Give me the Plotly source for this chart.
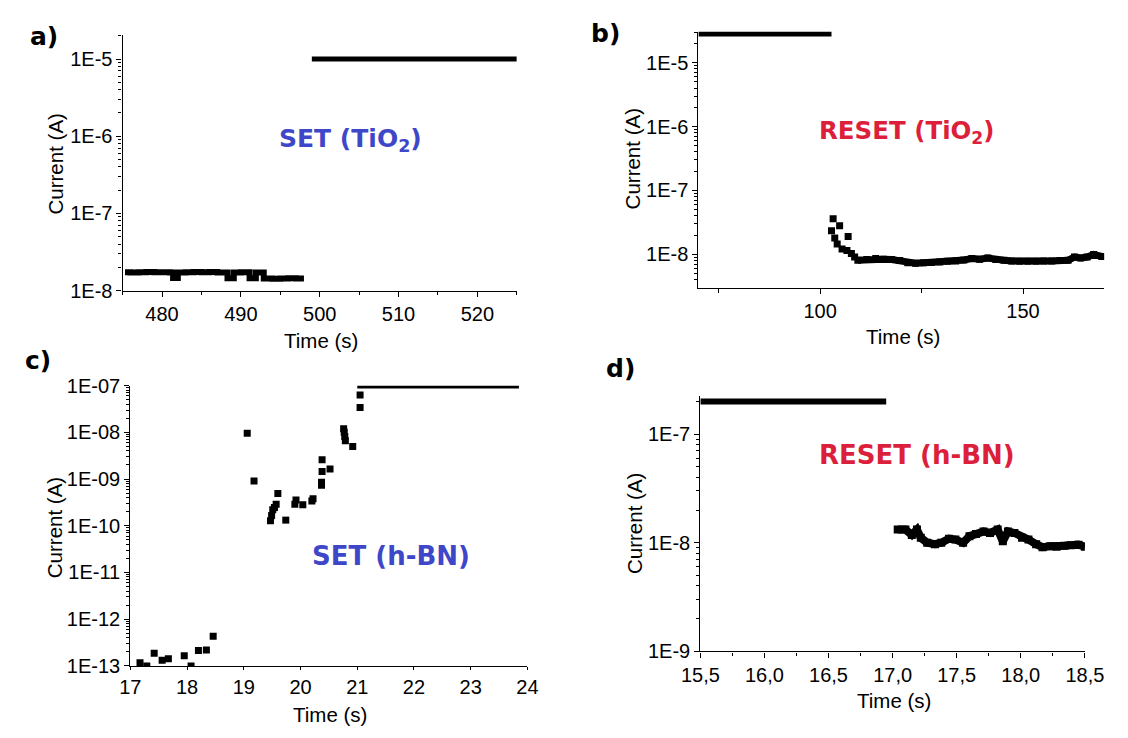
import plotly.graph_objects as go

# page body has an 8px default margin, so the figure is a bit smaller and shifted
OFF = 8
W, H = 1128 - OFF, 738 - OFF

# ---- a) SET (TiO2) ----
a_t_low = [475.3, 476, 477, 478, 479, 480, 481, 481.4, 482.0, 483, 484, 485, 486, 487, 488.3,
           489.1, 490, 491.1, 491.9, 492.9, 494, 495, 496, 497, 498]
a_i_low = [1.73e-8, 1.72e-8, 1.73e-8, 1.74e-8, 1.73e-8, 1.73e-8, 1.72e-8, 1.45e-8, 1.72e-8, 1.73e-8,
           1.74e-8, 1.73e-8, 1.74e-8, 1.72e-8, 1.44e-8, 1.72e-8, 1.73e-8, 1.44e-8, 1.72e-8, 1.43e-8,
           1.42e-8, 1.43e-8, 1.44e-8, 1.43e-8, 1.43e-8]
a_t_high = [499, 525]
a_i_high = [1e-5, 1e-5]

# ---- b) RESET (TiO2) ----
b_t_high = [70, 102.8]
b_i_high = [2.8e-5, 2.8e-5]
b_t_pts = [102.8, 103.2, 103.6, 104.2, 104.8, 105.4, 106.6, 106.9, 107.7, 108.5]
b_i_pts = [2.35e-8, 3.6e-8, 1.8e-8, 1.45e-8, 2.8e-8, 1.22e-8, 1.15e-8, 1.9e-8, 1.03e-8, 9.1e-9]
b_t_band = [109.3, 111.5, 113.7, 115.6, 117.6, 119.6, 121.6, 123.5, 125.5, 127.5, 129.5, 131.5, 133.4,
            135.4, 137.4, 139.3, 141.3, 143.3, 145.3, 147.2, 149.2, 151.2, 153.2, 155.1, 157.1, 159.1,
            161.1, 162.7, 164.2, 165.8, 167.4, 169.4]
b_i_band = [8.1e-9, 8.3e-9, 8.6e-9, 8.4e-9, 8.3e-9, 8.0e-9, 7.4e-9, 7.3e-9, 7.4e-9, 7.5e-9, 7.6e-9, 7.8e-9, 7.9e-9,
            8.2e-9, 8.6e-9, 8.4e-9, 8.8e-9, 8.3e-9, 8.1e-9, 7.9e-9, 7.8e-9, 7.8e-9, 7.8e-9, 7.9e-9, 7.9e-9, 8.0e-9,
            8.1e-9, 9.1e-9, 8.8e-9, 9.1e-9, 1.0e-8, 9.3e-9]

# ---- c) SET (h-BN) ----
c_t_pts = [17.17, 17.29, 17.42, 17.56, 17.67, 17.95, 18.07, 18.2, 18.34, 18.46,
           19.06, 19.18, 19.47, 19.49, 19.51, 19.54, 19.57, 19.6, 19.74, 19.9, 19.92,
           20.04, 20.2, 20.22, 20.38, 20.38, 20.37, 20.37, 20.52,
           20.76, 20.77, 20.78, 20.79, 20.92, 21.05, 21.05]
c_i_pts = [1.17e-13, 1.0e-13, 1.86e-13, 1.32e-13, 1.42e-13, 1.65e-13, 1.0e-13, 2.13e-13, 2.2e-13, 4.3e-13,
           9.6e-9, 9.1e-10, 1.28e-10, 1.65e-10, 2.2e-10, 2.45e-10, 2.9e-10, 4.9e-10, 1.32e-10, 2.9e-10, 3.55e-10,
           2.8e-10, 3.4e-10, 3.8e-10, 2.6e-9, 1.45e-9, 8.5e-10, 7.4e-10, 1.65e-9,
           1.2e-8, 1.0e-8, 8.1e-9, 6.6e-9, 5.0e-9, 6.3e-8, 3.4e-8]
c_t_high = [21.0, 23.85]
c_i_high = [9.3e-8, 9.3e-8]

# ---- d) RESET (h-BN) ----
d_t_high = [15.5, 16.95]
d_i_high = [2.0e-7, 2.0e-7]
d_t_band = [17.04, 17.1, 17.15, 17.19, 17.22, 17.27, 17.33, 17.38, 17.44, 17.49, 17.55, 17.6, 17.65,
            17.71, 17.76, 17.82, 17.86, 17.9, 17.95, 18.01, 18.06, 18.12, 18.17, 18.23, 18.28, 18.34,
            18.39, 18.45, 18.5]
d_i_band = [1.32e-8, 1.32e-8, 1.18e-8, 1.32e-8, 1.11e-8, 1.0e-8, 9.7e-9, 1.0e-8, 1.09e-8, 1.07e-8, 1.0e-8,
            1.15e-8, 1.2e-8, 1.27e-8, 1.23e-8, 1.32e-8, 1.03e-8, 1.27e-8, 1.23e-8, 1.11e-8, 1.07e-8, 9.7e-9,
            9.1e-9, 9.3e-9, 9.2e-9, 9.4e-9, 9.5e-9, 9.6e-9, 9.2e-9]

# tick labels
a_xticks = [480, 490, 500, 510, 520]
a_yticks = [1e-8, 1e-7, 1e-6, 1e-5]
a_ylabels = ["1E-8", "1E-7", "1E-6", "1E-5"]
b_xticks = [100, 150]
b_yticks = [1e-8, 1e-7, 1e-6, 1e-5]
b_ylabels = ["1E-8", "1E-7", "1E-6", "1E-5"]
c_xticks = [17, 18, 19, 20, 21, 22, 23, 24]
c_yticks = [1e-13, 1e-12, 1e-11, 1e-10, 1e-9, 1e-8, 1e-7]
c_ylabels = ["1E-13", "1E-12", "1E-11", "1E-10", "1E-09", "1E-08", "1E-07"]
d_xticks = [15.5, 16.0, 16.5, 17.0, 17.5, 18.0, 18.5]
d_xlabels = ["15,5", "16,0", "16,5", "17,0", "17,5", "18,0", "18,5"]
d_yticks = [1e-9, 1e-8, 1e-7]
d_ylabels = ["1E-9", "1E-8", "1E-7"]

BLUE = "#3f47c9"
RED = "#dc1f3a"
TICKFONT = dict(family="Liberation Sans, Arial", size=20, color="black")


def xdom(x0, x1):
    return [(x0 - OFF) / W, (x1 - OFF) / W]


def ydom(y0, y1):
    # y0 top pixel, y1 bottom pixel (page coordinates)
    return [1 - (y1 - OFF) / H, 1 - (y0 - OFF) / H]


def eje(**kw):
    base = dict(showline=True, linecolor="black", linewidth=1.3, ticks="outside", ticklen=5,
                tickcolor="black", showgrid=False, zeroline=False, tickfont=TICKFONT)
    base.update(kw)
    return base


def log_minor():
    return dict(ticks="outside", ticklen=3, tickcolor="black", dtick="D1", showgrid=False)


fig = go.Figure()

sq = dict(symbol="square", color="black")

# a)
fig.add_trace(go.Scatter(x=a_t_low, y=a_i_low, mode="lines", line=dict(color="black", width=6, shape="hv"),
                         xaxis="x", yaxis="y"))
fig.add_trace(go.Scatter(x=a_t_high, y=a_i_high, mode="lines", line=dict(color="black", width=5),
                         xaxis="x", yaxis="y"))
# b)
fig.add_trace(go.Scatter(x=b_t_high, y=b_i_high, mode="lines", line=dict(color="black", width=5),
                         xaxis="x2", yaxis="y2"))
fig.add_trace(go.Scatter(x=b_t_pts, y=b_i_pts, mode="markers", marker=dict(size=7, **sq),
                         xaxis="x2", yaxis="y2"))
fig.add_trace(go.Scatter(x=b_t_band, y=b_i_band, mode="lines+markers", line=dict(color="black", width=7),
                         marker=dict(size=7, **sq), xaxis="x2", yaxis="y2"))
# c)
fig.add_trace(go.Scatter(x=c_t_pts, y=c_i_pts, mode="markers", marker=dict(size=7, **sq),
                         xaxis="x3", yaxis="y3"))
fig.add_trace(go.Scatter(x=c_t_high, y=c_i_high, mode="lines", line=dict(color="black", width=3),
                         xaxis="x3", yaxis="y3"))
# d)
fig.add_trace(go.Scatter(x=d_t_high, y=d_i_high, mode="lines", line=dict(color="black", width=6),
                         xaxis="x4", yaxis="y4"))
fig.add_trace(go.Scatter(x=d_t_band, y=d_i_band, mode="lines+markers", line=dict(color="black", width=8),
                         marker=dict(size=8, **sq), xaxis="x4", yaxis="y4"))

fig.update_layout(
    width=W, height=H, margin=dict(l=0, r=0, t=0, b=0),
    paper_bgcolor="white", plot_bgcolor="white", showlegend=False,
    xaxis=eje(domain=xdom(107, 515), range=[475, 525], anchor="y", tickmode="array", tickvals=a_xticks,
              minor=dict(ticks="outside", ticklen=3, tickcolor="black", dtick=5, tick0=475)),
    yaxis=eje(domain=ydom(25, 288), type="log", range=[-8, -4.695], anchor="x", tickmode="array",
              tickvals=a_yticks, ticktext=a_ylabels, minor=log_minor()),
    xaxis2=eje(domain=xdom(703, 1123), range=[70, 170], anchor="y2", tickmode="array", tickvals=b_xticks,
               minor=dict(ticks="outside", ticklen=4, tickcolor="black", dtick=25, tick0=0)),
    yaxis2=eje(domain=ydom(21, 285), type="log", range=[-8.52, -4.515], anchor="x2", tickmode="array",
               tickvals=b_yticks, ticktext=b_ylabels, minor=log_minor()),
    xaxis3=eje(domain=xdom(115, 526), range=[17, 24], anchor="y3", tickmode="array", tickvals=c_xticks,
               ticklen=3),
    yaxis3=eje(domain=ydom(386, 675), type="log", range=[-13, -7], anchor="x3", tickmode="array",
               tickvals=c_yticks, ticktext=c_ylabels, minor=log_minor()),
    xaxis4=eje(domain=xdom(705, 1103), range=[15.5, 18.5], anchor="y4", tickmode="array", tickvals=d_xticks,
               ticktext=d_xlabels, minor=dict(ticks="outside", ticklen=3, tickcolor="black", dtick=0.25, tick0=15.5)),
    yaxis4=eje(domain=ydom(397, 660), type="log", range=[-9, -6.652], anchor="x4", tickmode="array",
               tickvals=d_yticks, ticktext=d_ylabels, minor=log_minor()),
)

TITLEFONT = dict(family="Liberation Sans, Arial", size=20.5, color="black")
LABELFONT = dict(family="DejaVu Sans", size=25, color="black")
BIGFONT = "DejaVu Sans"

anns = [
    # axis titles
    dict(text="Current (A)", x=38, y=157, textangle=-90, font=TITLEFONT),
    dict(text="Time (s)", x=312, y=339, font=TITLEFONT),
    dict(text="Current (A)", x=635, y=152, textangle=-90, font=TITLEFONT),
    dict(text="Time (s)", x=915, y=335, font=TITLEFONT),
    dict(text="Current (A)", x=36, y=533, textangle=-90, font=TITLEFONT),
    dict(text="Time (s)", x=322, y=725, font=TITLEFONT),
    dict(text="Current (A)", x=637, y=528, textangle=-90, font=TITLEFONT),
    dict(text="Time (s)", x=905, y=711, font=TITLEFONT),
    # panel letters
    dict(text="<b>a)</b>", x=26, y=26, font=LABELFONT),
    dict(text="<b>b)</b>", x=607, y=23, font=LABELFONT),
    dict(text="<b>c)</b>", x=19, y=360, font=LABELFONT),
    dict(text="<b>d)</b>", x=622, y=368, font=LABELFONT),
    # labels
    dict(text="<b>SET (TiO<sub>2</sub>)</b>", x=343, y=133, font=dict(family=BIGFONT, size=25, color=BLUE)),
    dict(text="<b>RESET (TiO<sub>2</sub>)</b>", x=919, y=124, font=dict(family=BIGFONT, size=24.5, color=RED)),
    dict(text="<b>SET (h-BN)</b>", x=385, y=562, font=dict(family=BIGFONT, size=26, color=BLUE)),
    dict(text="<b>RESET (h-BN)</b>", x=929, y=458, font=dict(family=BIGFONT, size=26, color=RED)),
]
for a in anns:
    a.update(xref="paper", yref="paper", showarrow=False, xanchor="center", yanchor="middle")
    a["x"] = (a["x"] - OFF) / W
    a["y"] = 1 - (a["y"] - OFF) / H
fig.update_layout(annotations=anns)

fig.write_html("out.html")
